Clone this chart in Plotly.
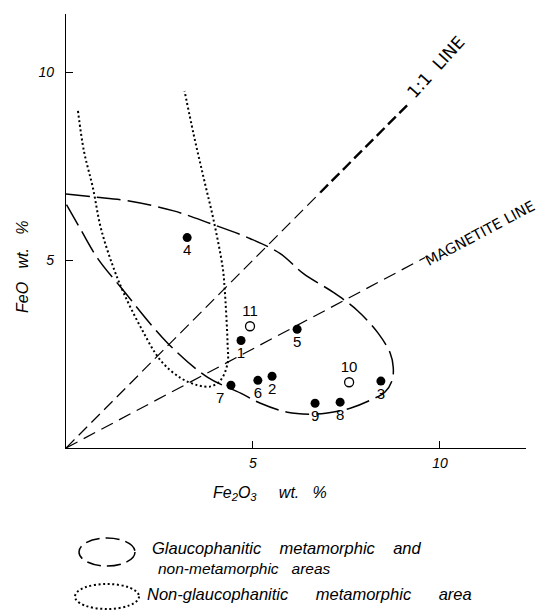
import plotly.graph_objects as go

# ---------------- data ----------------
filled_labels = ["1", "2", "3", "4", "5", "6", "7", "8", "9"]
filled_fe2o3 = [4.68, 5.51, 8.42, 3.24, 6.18, 5.13, 4.41, 7.33, 6.66]
filled_feo = [2.86, 1.91, 1.78, 5.60, 3.16, 1.80, 1.67, 1.22, 1.19]

open_labels = ["10", "11"]
open_fe2o3 = [7.57, 4.92]
open_feo = [1.75, 3.24]

# Glaucophanitic metamorphic and non-metamorphic areas (dashed field)
glauc_x = [0.0, 0.75, 1.65, 2.88, 3.87, 4.93, 5.73, 6.35, 7.15, 7.79, 8.35, 8.67, 8.75,
           8.72, 8.53, 8.13, 7.60, 6.99, 6.53, 5.92, 5.20, 4.67, 3.79, 2.72, 1.47, 0.85,
           0.40, 0.0]
glauc_y = [6.76, 6.68, 6.58, 6.31, 5.97, 5.57, 5.17, 4.64, 4.14, 3.66, 3.05, 2.52, 2.15,
           1.80, 1.49, 1.27, 1.06, 0.93, 0.90, 0.95, 1.19, 1.46, 1.88, 2.79, 4.27, 5.04,
           5.80, 6.50]

# Non-glaucophanitic metamorphic area (dotted field)
nonglauc_x = [0.32, 0.48, 0.72, 0.93, 1.25, 1.55, 2.00, 2.53, 3.07, 3.52, 3.87, 4.13,
              4.32, 4.32, 4.24, 4.19, 3.95, 3.68, 3.41, 3.17]
nonglauc_y = [8.97, 7.90, 6.92, 5.86, 4.85, 4.11, 3.21, 2.33, 1.86, 1.67, 1.64, 1.80,
              2.25, 2.79, 4.27, 4.80, 6.05, 7.19, 8.36, 9.50]

# reference lines
one_to_one_x = [0.0, 6.8]
one_to_one_y = [0.0, 6.8]
one_to_one_top_x = [6.8, 9.2]
one_to_one_top_y = [6.8, 9.2]
magnetite_x = [0.0, 9.6]
magnetite_y = [0.0, 5.07]

x_ticks = [5, 10]
y_ticks = [5, 10]
x_range = [0, 12.3]
y_range = [0, 11.55]

# ---------------- layout helpers ----------------
W, H = 545, 611
L, R, T, B = 66, 19, 14, 163
PW, PH = W - L - R, H - T - B


def px(xp, yp):
    """pixel position -> paper coordinates"""
    return (xp - L) / PW, (H - B - yp) / PH


ITAL = "Liberation Sans, Arial, sans-serif"
NB = "\u00a0"

fig = go.Figure()

fig.add_trace(go.Scatter(x=one_to_one_x, y=one_to_one_y, mode="lines",
                         line=dict(color="black", width=1.2, dash="12px,6px"),
                         hoverinfo="skip", showlegend=False))
fig.add_trace(go.Scatter(x=one_to_one_top_x, y=one_to_one_top_y, mode="lines",
                         line=dict(color="black", width=2.4, dash="11px,5px"),
                         hoverinfo="skip", showlegend=False))
fig.add_trace(go.Scatter(x=magnetite_x, y=magnetite_y, mode="lines",
                         line=dict(color="black", width=1.2, dash="13px,7px"),
                         hoverinfo="skip", showlegend=False))
fig.add_trace(go.Scatter(x=glauc_x, y=glauc_y, mode="lines",
                         line=dict(color="black", width=1.5, dash="24px,7px",
                                   shape="spline", smoothing=1.0),
                         hoverinfo="skip", showlegend=False))
fig.add_trace(go.Scatter(x=nonglauc_x, y=nonglauc_y, mode="lines",
                         line=dict(color="black", width=2, dash="2px,2.6px",
                                   shape="spline", smoothing=1.0),
                         hoverinfo="skip", showlegend=False))

filled_pos = ["bottom center"] * len(filled_labels)
filled_pos[filled_labels.index("7")] = "bottom left"
fig.add_trace(go.Scatter(x=filled_fe2o3, y=filled_feo, mode="markers+text",
                         text=filled_labels, textposition=filled_pos,
                         textfont=dict(family="Liberation Sans, Arial", size=15, color="black"),
                         marker=dict(size=9, color="black"),
                         showlegend=False))
fig.add_trace(go.Scatter(x=open_fe2o3, y=open_feo, mode="markers+text",
                         text=open_labels, textposition="top center",
                         textfont=dict(family="Liberation Sans, Arial", size=15, color="black"),
                         marker=dict(size=9, color="white", line=dict(color="black", width=1.3)),
                         showlegend=False))

axis_common = dict(showgrid=False, zeroline=False, showline=True, linecolor="black",
                   linewidth=1.3, ticks="inside", ticklen=7, tickcolor="black",
                   tickwidth=1.2,
                   tickfont=dict(family=ITAL, size=14, color="black", style="italic"))
fig.update_xaxes(range=x_range, tickvals=x_ticks, ticklabelstandoff=2, **axis_common)
fig.update_yaxes(range=y_range, tickvals=y_ticks, ticklabelstandoff=8, **axis_common)

ann = []
# line labels
ann.append(dict(x=9.89, y=10.13, xref="x", yref="y", text="1:1" + NB * 2 + "LINE",
                textangle=-48, showarrow=False, xanchor="center", yanchor="middle",
                font=dict(family="DejaVu Sans, sans-serif", size=17, color="black")))
ann.append(dict(x=11.08, y=5.73, xref="x", yref="y", text="MAGNETITE" + NB + "LINE",
                textangle=-28, showarrow=False, xanchor="center", yanchor="middle",
                font=dict(family="DejaVu Sans, sans-serif", size=14.5, color="black")))

# axis titles
xt = px(22, 267)
ann.append(dict(x=xt[0], y=xt[1], xref="paper", yref="paper",
                text="FeO" + NB * 3 + "wt." + NB * 3 + "%", textangle=-90, showarrow=False,
                xanchor="center", yanchor="middle",
                font=dict(family=ITAL, size=16, color="black", style="italic")))
xt = px(270, 493)
ann.append(dict(x=xt[0], y=xt[1], xref="paper", yref="paper",
                text="Fe<sub>2</sub>O<sub>3</sub>" + NB * 5 + "wt." + NB * 3 + "%",
                showarrow=False, xanchor="center", yanchor="middle",
                font=dict(family=ITAL, size=16, color="black", style="italic")))

# legend text
for (xp, yp, txt, fs) in [
    (150, 548, "Glaucophanitic" + NB * 4 + "metamorphic" + NB * 4 + "and", 16.5),
    (156, 568, "non-metamorphic" + NB * 3 + "areas", 15.5),
    (145, 594, "Non-glaucophanitic" + NB * 6 + "metamorphic" + NB * 6 + "area", 16.5),
]:
    p = px(xp, yp)
    ann.append(dict(x=p[0], y=p[1], xref="paper", yref="paper", text=txt, showarrow=False,
                    xanchor="left", yanchor="middle",
                    font=dict(family=ITAL, size=fs, color="black", style="italic")))

# legend icons
d0 = px(79, 566)
d1 = px(135, 538)
o0 = px(75, 609)
o1 = px(139, 584)
shapes = [
    dict(type="circle", xref="paper", yref="paper", x0=d0[0], y0=d0[1], x1=d1[0], y1=d1[1],
         line=dict(color="black", width=1.5, dash="14px,6px")),
    dict(type="circle", xref="paper", yref="paper", x0=o0[0], y0=o0[1], x1=o1[0], y1=o1[1],
         line=dict(color="black", width=2, dash="2px,2.6px")),
]

fig.update_layout(width=W, height=H, margin=dict(l=L, r=R, t=T, b=B),
                  plot_bgcolor="white", paper_bgcolor="white",
                  annotations=ann, shapes=shapes, showlegend=False)

fig.write_html("out.html")
